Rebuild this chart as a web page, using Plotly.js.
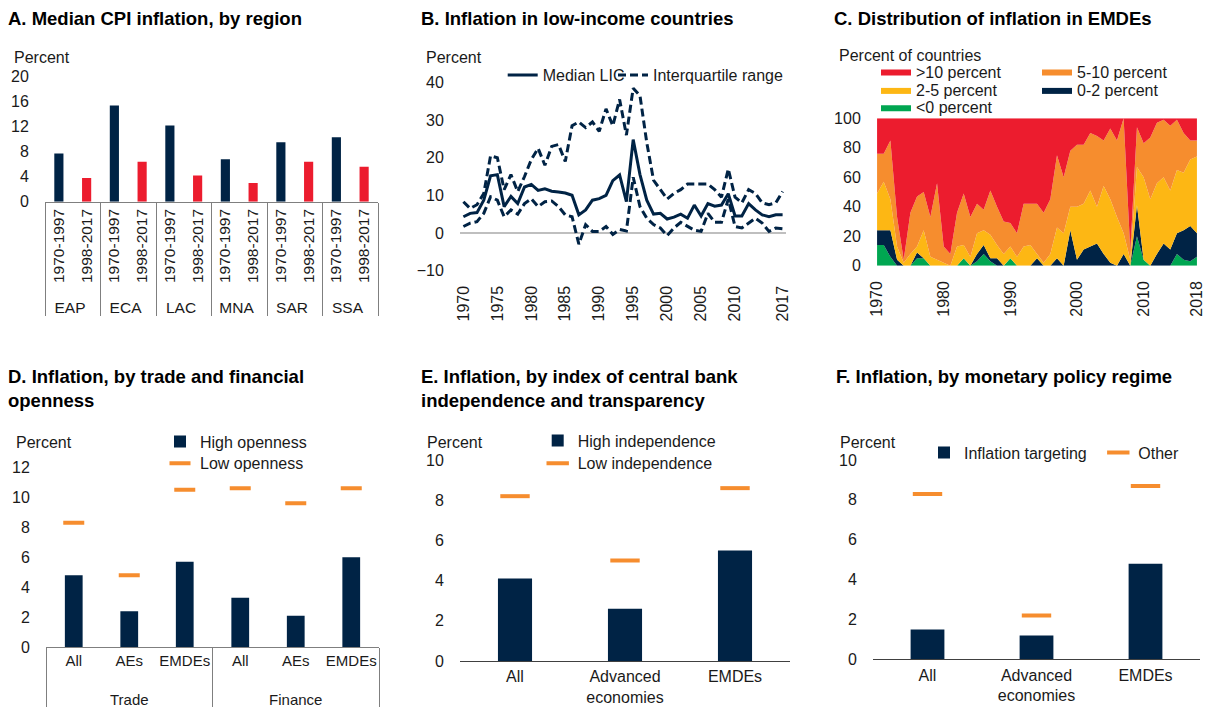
<!DOCTYPE html>
<html><head><meta charset="utf-8">
<script src="https://cdn.plot.ly/plotly-3.0.1.min.js"></script>
<style>html,body{margin:0;padding:0;background:#fff}#chart{width:1205px;height:707px}</style>
</head><body><div id="chart"></div>
<script>
// ---------- Panel A ----------
const regions = ['EAP','ECA','LAC','MNA','SAR','SSA'];
const periods = ['1970-1997','1998-2017'];
const cpiEarly = [7.7,15.4,12.2,6.8,9.5,10.3];
const cpiLate = [3.8,6.4,4.2,3.0,6.4,5.6];

// ---------- Panel B ----------
const licYears = [1970,1971,1972,1973,1974,1975,1976,1977,1978,1979,1980,1981,1982,1983,1984,1985,1986,1987,1988,1989,1990,1991,1992,1993,1994,1995,1996,1997,1998,1999,2000,2001,2002,2003,2004,2005,2006,2007,2008,2009,2010,2011,2012,2013,2014,2015,2016,2017];
const licMedian = [4.3,5.2,5.4,8.7,15.2,15.5,7.0,9.7,7.8,12.2, 12.9,11.3,11.7,11.1,10.9,10.6,10.0,4.8,6.1,8.7, 9.1,10.0,13.9,15.4,8.3,24.8,15.5,8.7,5.0,5.2, 3.7,4.2,5.0,3.9,7.4,4.5,7.8,7.1,7.4,10.4, 4.5,4.5,7.8,6.1,4.8,4.3,4.8,4.8];
const licQ1 = [1.7,2.6,3.0,5.2,9.6,8.7,4.3,6.1,5.0,7.8, 9.1,7.0,8.3,8.5,7.0,4.8,4.3,-3.0,2.2,0.4, 0.4,1.7,-0.4,0.9,0.5,14.8,7.0,3.9,2.2,1.3, -0.7,1.3,2.8,1.7,0.7,0.4,5.2,2.8,2.8,9.0, 1.7,1.3,2.6,3.9,2.6,0.4,1.3,1.1];
const licQ3 = [8.3,6.5,7.5,10.5,20.5,20.0,11.5,15.5,11.0,15.0, 19.5,22.5,18.0,23.0,23.5,19.0,28.5,29.5,28.0,29.5, 27.0,33.0,28.5,35.5,26.0,38.5,36.5,24.0,14.0,11.5, 9.0,10.5,11.5,13.0,13.0,13.0,13.0,11.5,9.5,17.0, 9.5,8.0,11.5,10.5,8.0,7.5,8.0,11.0];
const licTicks = [1970,1975,1980,1985,1990,1995,2000,2005,2010,2017];

// ---------- Panel C ----------
const distYears = [1970,1971,1972,1973,1974,1975,1976,1977,1978,1979,1980,1981,1982,1983,1984,1985,1986,1987,1988,1989,1990,1991,1992,1993,1994,1995,1996,1997,1998,1999,2000,2001,2002,2003,2004,2005,2006,2007,2008,2009,2010,2011,2012,2013,2014,2015,2016,2017,2018];
const distBelow0 = [14,14,6,0,0,0,5,5,0,0, 0,0,0,5,0,3,8,3,0,0, 5,0,0,0,0,0,0,0,0,0, 0,0,0,0,0,0,0,0,0,20, 4,0,0,0,0,8,4,3,6];
const dist0to2 = [10,10,18,4,0,0,4,0,0,0, 0,0,0,0,0,5,6,2,5,0, 0,0,0,0,5,0,0,5,0,24, 4,11,13,15,8,2,0,8,0,21, 0,0,8,15,11,14,20,24,16];
const dist2to5 = [25,33,21,9,2,8,4,19,6,4, 2,0,13,9,6,14,10,16,9,8, 8,6,13,14,3,2,8,21,22,16, 36,31,38,25,46,43,33,14,4,26, 56,45,48,45,40,43,39,45,52];
const dist5to10 = [27,19,40,20,2,28,34,26,27,52, 11,8,23,35,27,20,14,30,26,22, 16,16,29,28,34,34,37,49,38,38, 42,40,39,48,31,48,52,78,6,27, 23,42,41,39,44,34,27,13,11];
const distAbove10 = [24,24,15,67,96,64,53,50,67,44, 87,92,64,51,67,58,62,49,60,70, 71,78,58,58,58,64,55,25,40,22, 18,18,10,12,15,7,15,0,90,6, 17,13,3,1,5,1,10,15,15];
const distTicks = [1970,1980,1990,2000,2010,2018];

// ---------- Panel D ----------
const openGroups = ['Trade','Trade','Trade','Finance','Finance','Finance'];
const openCats = ['All','AEs','EMDEs','All','AEs','EMDEs'];
const openHigh = [4.8,2.4,5.7,3.3,2.1,6.0];
const openLow = [8.3,4.8,10.5,10.6,9.6,10.6];

// ---------- Panel E ----------
const cbCats = ['All','Advanced<br>economies','EMDEs'];
const cbHigh = [4.1,2.6,5.5];
const cbLow = [8.2,5.0,8.6];

// ---------- Panel F ----------
const mpCats = ['All','Advanced<br>economies','EMDEs'];
const mpTargeting = [1.5,1.2,4.8];
const mpOther = [8.3,2.2,8.7];

// ---------- helpers ----------
const W = 1205, H = 707;
const X = px => px / W;
const Y = py => 1 - py / H;
const domX = (a, b) => [X(a), X(b)];
const domY = (top, bottom) => [Y(bottom), Y(top)];
const NAVY = '#002345', RED = '#EC1C2E', ORANGE = '#F68D2E', YELLOW = '#FDB714', GREEN = '#00A651';
const TXT = '#1a1a1a';
const FONT = 'Liberation Sans, Arial, sans-serif';
const tf = (s) => ({family: FONT, size: s || 16, color: TXT});
const DASHM = (sz) => ({symbol: 'line-ew', size: sz, line: {color: ORANGE, width: 4}});

// one legend per entry, placed by the left edge of its text and its vertical centre
const legends = {};
let legendCount = 0;
function legendAt(textX, centerY) {
  legendCount += 1;
  const key = legendCount === 1 ? 'legend' : 'legend' + legendCount;
  legends[key] = {font: tf(16), bgcolor: 'rgba(0,0,0,0)', borderwidth: 0, orientation: 'v',
    xanchor: 'left', yanchor: 'middle', x: X(textX - 40), y: Y(centerY), itemclick: false, itemdoubleclick: false};
  return key;
}

const traces = [];
// A
const aGroups = [], aPeriods = [], aVals = [], aColors = [];
regions.forEach((r, i) => {
  aGroups.push(r, r); aPeriods.push(periods[0], periods[1]);
  aVals.push(cpiEarly[i], cpiLate[i]); aColors.push(NAVY, RED);
});
traces.push({type: 'bar', x: [aGroups, aPeriods], y: aVals, marker: {color: aColors}, width: 0.33,
  xaxis: 'x', yaxis: 'y', showlegend: false, hoverinfo: 'skip'});
// B
traces.push({type: 'scatter', mode: 'lines', x: licYears, y: licMedian, name: 'Median LIC',
  line: {color: NAVY, width: 3}, xaxis: 'x2', yaxis: 'y2', legend: legendAt(542.7, 75)});
traces.push({type: 'scatter', mode: 'lines', x: licYears, y: licQ3, name: 'Interquartile range',
  line: {color: NAVY, width: 3, dash: '8px,4px'}, xaxis: 'x2', yaxis: 'y2', legend: legendAt(653, 75)});
traces.push({type: 'scatter', mode: 'lines', x: licYears, y: licQ1, name: 'Interquartile range',
  line: {color: NAVY, width: 3, dash: '8px,4px'}, xaxis: 'x2', yaxis: 'y2', showlegend: false});
// C (stacked from the bottom band up)
const cSeries = [
  {y: distBelow0, name: '<0 percent', c: GREEN, lx: 916, ly: 107.3},
  {y: dist0to2, name: '0-2 percent', c: NAVY, lx: 1077, ly: 90},
  {y: dist2to5, name: '2-5 percent', c: YELLOW, lx: 916, ly: 90},
  {y: dist5to10, name: '5-10 percent', c: ORANGE, lx: 1077, ly: 71.7},
  {y: distAbove10, name: '>10 percent', c: RED, lx: 916, ly: 71.7}
];
cSeries.forEach(s => traces.push({type: 'scatter', mode: 'lines', x: distYears, y: s.y, name: s.name,
  stackgroup: 'c', fillcolor: s.c, line: {width: 0, color: s.c}, xaxis: 'x3', yaxis: 'y3',
  legend: legendAt(s.lx, s.ly)}));
// D (a blank second line under each inner label leaves room above the group labels)
const openCatsShown = openCats.map(c => c + '<br> ');
traces.push({type: 'bar', x: [openGroups, openCatsShown], y: openHigh, name: 'High openness', marker: {color: NAVY},
  width: 0.32, xaxis: 'x4', yaxis: 'y4', legend: legendAt(200, 441.7)});
traces.push({type: 'scatter', mode: 'markers', x: [openGroups, openCatsShown], y: openLow, name: 'Low openness',
  marker: DASHM(15), xaxis: 'x4', yaxis: 'y4', legend: legendAt(200, 463.3)});
// E
traces.push({type: 'bar', x: cbCats, y: cbHigh, name: 'High independence', marker: {color: NAVY},
  width: 0.31, xaxis: 'x5', yaxis: 'y5', legend: legendAt(577.7, 440.7)});
traces.push({type: 'scatter', mode: 'markers', x: cbCats, y: cbLow, name: 'Low independence',
  marker: DASHM(21), xaxis: 'x5', yaxis: 'y5', legend: legendAt(577.7, 463.3)});
// F
traces.push({type: 'bar', x: mpCats, y: mpTargeting, name: 'Inflation targeting', marker: {color: NAVY},
  width: 0.31, xaxis: 'x6', yaxis: 'y6', legend: legendAt(964, 452.7)});
traces.push({type: 'scatter', mode: 'markers', x: mpCats, y: mpOther, name: 'Other',
  marker: DASHM(21), xaxis: 'x6', yaxis: 'y6', legend: legendAt(1138.3, 452.7)});

const yBase = {showgrid: false, zeroline: false, showline: false, ticks: 'outside', ticklen: 12,
  tickcolor: 'rgba(0,0,0,0)', tickfont: tf(16)};
const xCat = {showgrid: false, zeroline: false, showline: true, linecolor: '#7f7f7f', linewidth: 1,
  ticks: 'outside', ticklen: 6, tickcolor: 'rgba(0,0,0,0)', tickfont: tf(16), tickangle: 0};

const ann = [];
const title = (txt, x, y) => ann.push({text: '<b>' + txt + '</b>', xref: 'paper', yref: 'paper', x: X(x), y: Y(y),
  xanchor: 'left', yanchor: 'top', align: 'left', showarrow: false, font: {family: FONT, size: 18.5, color: '#000'}});
title('A. Median CPI inflation, by region', 6, 6);
title('B. Inflation in low-income countries', 419, 6);
title('C. Distribution of inflation in EMDEs', 832, 6);
title('D. Inflation, by trade and financial<br>openness', 6, 364);
title('E. Inflation, by index of central bank<br>independence and transparency', 419, 364);
title('F. Inflation, by monetary policy regime', 834, 364);
const unit = (txt, x, y) => ann.push({text: txt, xref: 'paper', yref: 'paper', x: X(x), y: Y(y),
  xanchor: 'left', yanchor: 'middle', showarrow: false, font: tf(16)});
unit('Percent', 12, 57);
unit('Percent', 424, 57);
unit('Percent of countries', 837, 55);
unit('Percent', 14, 442);
unit('Percent', 425, 442);
unit('Percent', 838, 442);

const layout = Object.assign({
  width: W, height: H, margin: {l: 0, r: 0, t: 0, b: 0, autoexpand: false}, paper_bgcolor: '#fff', plot_bgcolor: '#fff',
  font: tf(16), barmode: 'overlay',
  xaxis: Object.assign({}, xCat, {domain: domX(45, 378), anchor: 'y', type: 'multicategory', tickangle: -90,
    showdividers: true, dividercolor: '#7f7f7f', dividerwidth: 1, tickfont: tf(15.5), ticklen: 9}),
  yaxis: Object.assign({}, yBase, {domain: domY(76.7, 201.7), range: [0, 20], dtick: 4, anchor: 'x'}),
  xaxis2: {domain: domX(460, 786), anchor: 'y2', range: [1969.5, 2017.5], tickvals: licTicks, tickangle: -90,
    showgrid: false, zeroline: false, showline: false, ticks: 'outside', ticklen: 8, tickcolor: 'rgba(0,0,0,0)', tickfont: tf(16)},
  yaxis2: Object.assign({}, yBase, {domain: domY(82.5, 270.5), range: [-10, 40], dtick: 10, anchor: 'x2',
    zeroline: true, zerolinecolor: '#BFBFBF', zerolinewidth: 2}),
  xaxis3: {domain: domX(877, 1197), anchor: 'y3', range: [1969.99, 2018.01], tickvals: distTicks, tickangle: -90,
    ticklabeloverflow: 'allow',
    showgrid: false, zeroline: false, showline: false, ticks: 'outside', ticklen: 8, tickcolor: 'rgba(0,0,0,0)', tickfont: tf(16)},
  yaxis3: Object.assign({}, yBase, {domain: domY(118.3, 265.7), range: [0, 100], dtick: 20, anchor: 'x3'}),
  xaxis4: Object.assign({}, xCat, {domain: domX(46, 379), anchor: 'y4', type: 'multicategory', ticklen: 2,
    tickfont: tf(15), showdividers: true, dividercolor: '#7f7f7f', dividerwidth: 1}),
  yaxis4: Object.assign({}, yBase, {domain: domY(467.3, 647.3), range: [0, 12], dtick: 2, anchor: 'x4'}),
  xaxis5: Object.assign({}, xCat, {domain: domX(460, 790), anchor: 'y5', linecolor: '#404040', ticklen: 1}),
  yaxis5: Object.assign({}, yBase, {domain: domY(460, 661), range: [0, 10], dtick: 2, anchor: 'x5'}),
  xaxis6: Object.assign({}, xCat, {domain: domX(873, 1200), anchor: 'y6', linecolor: '#404040', ticklen: 1}),
  yaxis6: Object.assign({}, yBase, {domain: domY(460, 659.3), range: [0, 10], dtick: 2, anchor: 'x6'}),
  annotations: ann,
  showlegend: true
}, legends);

Plotly.newPlot('chart', traces, layout, {staticPlot: true, displayModeBar: false});
</script></body></html>
